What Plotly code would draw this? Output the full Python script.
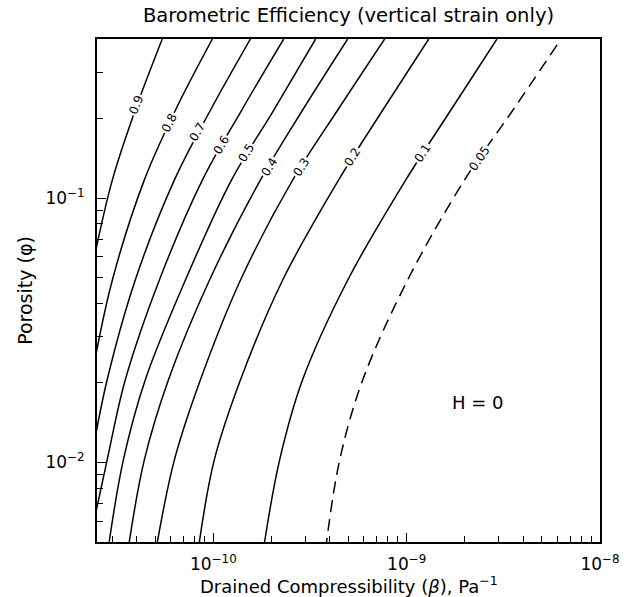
import numpy as np
import plotly.graph_objects as go

# ---- data (beta in Pa^-1, phi = porosity) ----
levels = ["0.9", "0.8", "0.7", "0.6", "0.5", "0.4", "0.3", "0.2", "0.1", "0.05"]

beta_09 = [5.44e-11, 3.94e-11, 3.00e-11, 2.40e-11]
phi_09 = [0.40, 0.215, 0.117, 0.058]

beta_08 = [9.88e-11, 6.36e-11, 4.39e-11, 3.00e-11, 2.40e-11]
phi_08 = [0.40, 0.215, 0.117, 0.0489, 0.023]

beta_07 = [1.555e-10, 9.65e-11, 6.28e-11, 3.94e-11, 2.82e-11, 2.40e-11]
phi_07 = [0.40, 0.215, 0.117, 0.0489, 0.0205, 0.0115]

beta_06 = [2.31e-10, 1.40e-10, 8.77e-11, 5.25e-11, 3.50e-11, 2.82e-11, 2.40e-11]
phi_06 = [0.40, 0.215, 0.117, 0.0489, 0.0205, 0.0102, 0.0059]

phi_grid = [0.40, 0.215, 0.117, 0.0489, 0.0205, 0.0102, 0.005]
beta_05 = [3.38e-10, 2.05e-10, 1.24e-10, 7.16e-11, 4.44e-11, 3.42e-11, 2.89e-11]
beta_04 = [4.95e-10, 2.89e-10, 1.75e-10, 9.54e-11, 5.85e-11, 4.39e-11, 3.67e-11]
beta_03 = [7.69e-10, 4.39e-10, 2.57e-10, 1.38e-10, 8.56e-11, 6.28e-11, 5.13e-11]
beta_02 = [1.30e-9, 7.51e-10, 4.44e-10, 2.28e-10, 1.38e-10, 1.01e-10, 8.46e-11]
beta_01 = [2.93e-9, 1.69e-9, 9.88e-10, 4.95e-10, 2.89e-10, 2.20e-10, 1.84e-10]

beta_005 = [6.0e-9, 3.54e-9, 1.99e-9, 1.01e-9, 5.92e-10, 4.50e-10, 3.85e-10]
phi_005 = [0.38, 0.215, 0.117, 0.0489, 0.0205, 0.0102, 0.005]

# contour label positions
label_beta = [3.99e-11, 5.92e-11, 8.26e-11, 1.10e-10, 1.48e-10, 1.95e-10, 2.86e-10, 5.25e-10, 1.21e-9, 2.39e-9]
label_phi = [0.2248, 0.1922, 0.1777, 0.1587, 0.148, 0.131, 0.131, 0.1429, 0.148, 0.1417]
label_angle = [-69, -63, -60, -60, -59, -58, -57, -58, -57, -56]

x_ticks = [1e-10, 1e-9, 1e-8]
x_ticktext = ["10<sup>−10</sup>", "10<sup>−9</sup>", "10<sup>−8</sup>"]
y_ticks = [1e-2, 1e-1]
y_ticktext = ["10<sup>−2</sup>", "10<sup>−1</sup>"]

x_title = "Drained Compressibility (<i>β</i>), Pa<sup>−1</sup>"
y_title = "Porosity (φ)"
main_title = "Barometric Efficiency (vertical strain only)"

curves = [
    (beta_09, phi_09), (beta_08, phi_08), (beta_07, phi_07), (beta_06, phi_06),
    (beta_05, phi_grid), (beta_04, phi_grid), (beta_03, phi_grid),
    (beta_02, phi_grid), (beta_01, phi_grid), (beta_005, phi_005),
]

FONT = "DejaVu Sans"
W, H = 644, 597
ML, MR, MT, MB = 97, 44, 39, 55

fig = go.Figure()
for lev, (bx, py) in zip(levels, curves):
    dash = "12px,7px" if lev == "0.05" else "solid"
    fig.add_trace(go.Scatter(
        x=bx, y=py, mode="lines", name=lev,
        line=dict(color="black", width=1.5, dash=dash, shape="spline", smoothing=1.0),
        hoverinfo="skip",
    ))

for lev, bx, py, ang in zip(levels, label_beta, label_phi, label_angle):
    fig.add_annotation(
        x=np.log10(bx), y=np.log10(py), xref="x", yref="y",
        text=lev, showarrow=False, textangle=ang,
        font=dict(family=FONT, size=12, color="black"),
        bgcolor="white", borderpad=1,
    )

fig.add_annotation(
    x=np.log10(2.33e-9), y=np.log10(0.0169), xref="x", yref="y",
    text="H = 0", showarrow=False,
    font=dict(family=FONT, size=18, color="black"),
)

# x-axis title placed just below the tick labels
plot_h = H - MT - MB
fig.add_annotation(
    x=0.5, xref="paper", xanchor="center",
    y=-(585 - (H - MB)) / plot_h, yref="paper", yanchor="middle",
    text=x_title, showarrow=False, borderpad=0,
    font=dict(family=FONT, size=18, color="black"),
)

minor_x = [m * 10.0 ** e for e in (-11, -10, -9) for m in range(2, 10)]
minor_y = [m * 10.0 ** e for e in (-3, -2, -1) for m in range(2, 10)]

axis_common = dict(
    type="log", showgrid=False, zeroline=False, automargin=False,
    showline=True, linecolor="black", linewidth=1.8, mirror=True,
    ticks="inside", ticklen=9, tickwidth=1.3, tickcolor="black",
    tickfont=dict(family=FONT, size=17, color="black"),
)

fig.update_layout(
    width=W, height=H,
    margin=dict(l=ML, r=MR, t=MT, b=MB, autoexpand=False),
    paper_bgcolor="white", plot_bgcolor="white",
    showlegend=False,
    font=dict(family=FONT, size=18, color="black"),
    title=dict(text=main_title,
               x=0.5, xref="paper", xanchor="center",
               y=1 - 15 / H, yref="container", yanchor="middle",
               font=dict(family=FONT, size=19.5, color="black")),
    xaxis=dict(
        range=[np.log10(2.5e-11), -8],
        tickvals=x_ticks, ticktext=x_ticktext,
        ticklabelstandoff=6,
        minor=dict(tickvals=minor_x, ticks="inside", ticklen=6, tickwidth=1.2, tickcolor="black", showgrid=False),
        **axis_common,
    ),
    yaxis=dict(
        range=[np.log10(0.005), np.log10(0.4)],
        tickvals=y_ticks, ticktext=y_ticktext,
        ticklabelstandoff=7,
        minor=dict(tickvals=minor_y, ticks="inside", ticklen=6, tickwidth=1.2, tickcolor="black", showgrid=False),
        title=dict(text=y_title, standoff=8,
                   font=dict(family=FONT, size=19, color="black")),
        **axis_common,
    ),
)

fig.write_html("out.html", config={"displayModeBar": False},
               post_script="document.body.style.margin='0px';")
